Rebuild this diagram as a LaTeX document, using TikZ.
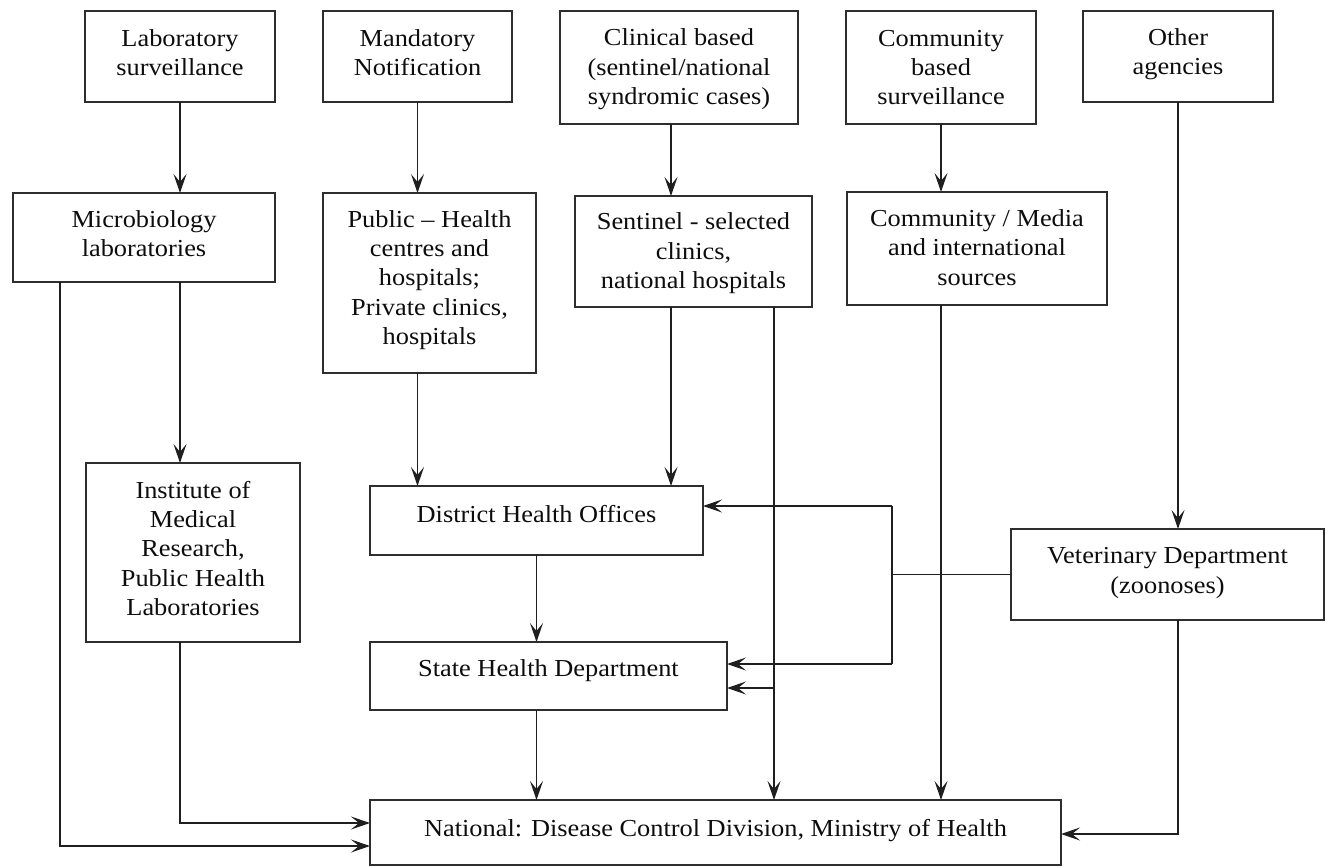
\documentclass[tikz,border=0pt]{standalone}
\usepackage{fontspec}
\setmainfont{Liberation Serif}[FakeStretch=1.08]
\usetikzlibrary{arrows.meta}

% A framed box given by its corners; its text sits #1 bp above the centre
\newcommand\flowbox[7][4]{%
  \node[box, minimum width={(#5-#3)*1bp}, minimum height={(#6-#4)*1bp}]
    (#2) at ({(#3+#5)/2},{(#4+#6)/2}) {};
  \node[txt] at ([yshift=#1bp]#2.center) {#7};}

\begin{document}
\begin{tikzpicture}[x=1bp,y=-1bp,
  box/.style={draw=black!82, line width=2.1bp, rectangle, inner sep=0pt, outer sep=0pt},
  txt/.style={font=\fontsize{24.5}{29.5}\selectfont, align=center, text=black!95, inner sep=0pt},
  flow/.style={draw=black!88, line width=1.8bp, -{Stealth[length=19bp,width=13bp,inset=8bp]}},
  link/.style={draw=black!88, line width=1.8bp}]
\useasboundingbox (0,0) rectangle (1326,866);

% sources
\flowbox{lab}{85}{11}{275}{102}{Laboratory\\surveillance}
\flowbox{mand}{323}{11}{512}{102}{Mandatory\\Notification}
\flowbox[-2]{clin}{560}{11}{798}{124}{Clinical based\\(sentinel/national\\syndromic cases)}
\flowbox[0]{comm}{846}{11}{1036}{124}{Community\\based\\surveillance}
\flowbox[2.5]{other}{1083}{11}{1273}{102}{Other\\agencies}

% reporting units
\flowbox{micro}{13}{193}{275}{282}{Microbiology\\laboratories}
\flowbox[3]{pub}{323}{193}{536}{373}{Public -- Health\\centres and\\hospitals;\\Private clinics,\\hospitals}
\flowbox[-2]{sent}{575}{196}{812}{307}{Sentinel - selected\\clinics,\\national hospitals}
\flowbox[1]{cmed}{847}{192}{1107}{305}{Community / Media\\and international\\sources}

% receiving levels
\flowbox{inst}{86}{463}{300}{642}{Institute of\\Medical\\Research,\\Public Health\\Laboratories}
\flowbox[6]{dist}{370}{486}{703}{555}{District Health Offices}
\flowbox[5]{stat}{370}{642}{727}{710}{State Health Department}
\flowbox[1.5]{vet}{1011}{529}{1324}{620}{Veterinary Department\\(zoonoses)}
\flowbox[2]{nat}{370}{800}{1061}{865}{National: Disease Control Division, Ministry of Health}

% column and junction helpers
\coordinate (colA) at (671,0);
\coordinate (colB) at (774,0);
\coordinate (colM) at (60,0);
\coordinate (jn) at (892,575);
\coordinate (din) at ([yshift=14.5bp]dist.east);
\coordinate (stin1) at ([yshift=12bp]stat.east);
\coordinate (stin2) at ([yshift=-12bp]stat.east);

% downward flows
\draw[flow] (lab.south) -- (micro.north -| lab.south);
\draw[flow] (mand.south) -- (pub.north -| mand.south);
\draw[flow] (clin.south -| colA) -- (sent.north -| colA);
\draw[flow] (comm.south) -- (cmed.north -| comm.south);
\draw[flow] (other.south) -- (vet.north -| other.south);
\draw[flow] (micro.south -| lab.south) -- (inst.north -| lab.south);
\draw[flow] (pub.south -| mand.south) -- (dist.north -| mand.south);
\draw[flow] (sent.south -| colA) -- (dist.north -| colA);
\draw[flow] (sent.south -| colB) -- (nat.north -| colB);
\draw[flow] (colB |- stin2) -- (stin2);
\draw[flow] (cmed.south -| comm.south) -- (nat.north -| comm.south);
\draw[flow] (dist.south) -- (stat.north -| dist.south);
\draw[flow] (stat.south -| dist.south) -- (nat.north -| dist.south);

% veterinary branch to district and state
\draw[link] (vet.west) -- (vet.west -| jn);
\draw[link] (jn |- din) -- (jn |- stin1);
\draw[flow] (jn |- din) -- (din);
\draw[flow] (jn |- stin1) -- (stin1);

% side feeds into the national level
\draw[flow] (inst.south -| lab.south) |- ([yshift=9.5bp]nat.west);
\draw[flow] (micro.south -| colM) |- ([yshift=-13.5bp]nat.west);
\draw[flow] (vet.south -| other.south) |- ([yshift=-1.5bp]nat.east);
\end{tikzpicture}
\end{document}
